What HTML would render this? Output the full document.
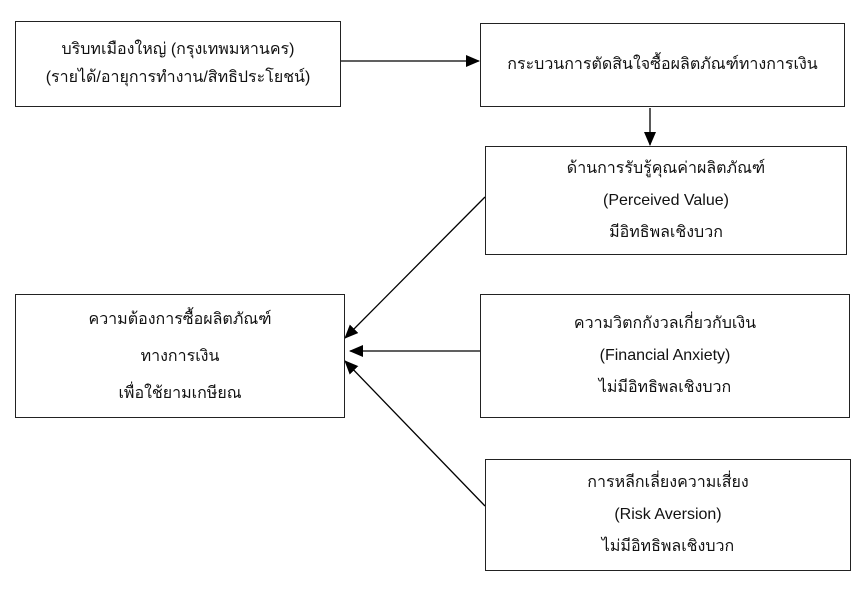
<!DOCTYPE html>
<html><head><meta charset="utf-8"><style>
body{margin:0;width:862px;height:589px;background:#fff;position:relative;overflow:hidden;font-family:"Liberation Sans","Noto Sans CJK SC",sans-serif;}
.b{position:absolute;border:1.3px solid #222;box-sizing:border-box;display:flex;flex-direction:column;justify-content:center;align-items:center;text-align:center;font-size:16px;color:#111;line-height:1;}
.b div{height:32px;line-height:32px;}
</style></head><body>
<svg width="862" height="589" style="position:absolute;left:0;top:0">
<defs><marker id="a" markerWidth="14" markerHeight="12" refX="13" refY="6" orient="auto" markerUnits="userSpaceOnUse"><path d="M0,0 L14,6 L0,12z" fill="#000"/></marker></defs>
<g stroke="#000" stroke-width="1.3">
<line x1="341" y1="61" x2="479" y2="61" marker-end="url(#a)"/>
<line x1="650" y1="108" x2="650" y2="145" marker-end="url(#a)"/>
<line x1="485" y1="197" x2="345" y2="338" marker-end="url(#a)"/>
<line x1="480" y1="351" x2="350" y2="351" marker-end="url(#a)"/>
<line x1="485" y1="506" x2="345" y2="361" marker-end="url(#a)"/>
</g></svg>
<div class="b" style="left:15px;top:21px;width:326px;height:86px"><div style="height:28px;line-height:28px">บริบทเมืองใหญ่ (กรุงเทพมหานคร)</div><div style="height:28px;line-height:28px">(รายได้/อายุการทำงาน/สิทธิประโยชน์)</div></div>
<div class="b" style="left:480px;top:23px;width:365px;height:84px">กระบวนการตัดสินใจซื้อผลิตภัณฑ์ทางการเงิน</div>
<div class="b" style="left:485px;top:146px;width:362px;height:109px"><div>ด้านการรับรู้คุณค่าผลิตภัณฑ์</div><div>(Perceived Value)</div><div>มีอิทธิพลเชิงบวก</div></div>
<div class="b" style="left:15px;top:294px;width:330px;height:124px"><div style="height:37px;line-height:37px">ความต้องการซื้อผลิตภัณฑ์</div><div style="height:37px;line-height:37px">ทางการเงิน</div><div style="height:37px;line-height:37px">เพื่อใช้ยามเกษียณ</div></div>
<div class="b" style="left:480px;top:294px;width:370px;height:124px"><div>ความวิตกกังวลเกี่ยวกับเงิน</div><div>(Financial Anxiety)</div><div>ไม่มีอิทธิพลเชิงบวก</div></div>
<div class="b" style="left:485px;top:459px;width:366px;height:112px"><div>การหลีกเลี่ยงความเสี่ยง</div><div>(Risk Aversion)</div><div>ไม่มีอิทธิพลเชิงบวก</div></div>
</body></html>
